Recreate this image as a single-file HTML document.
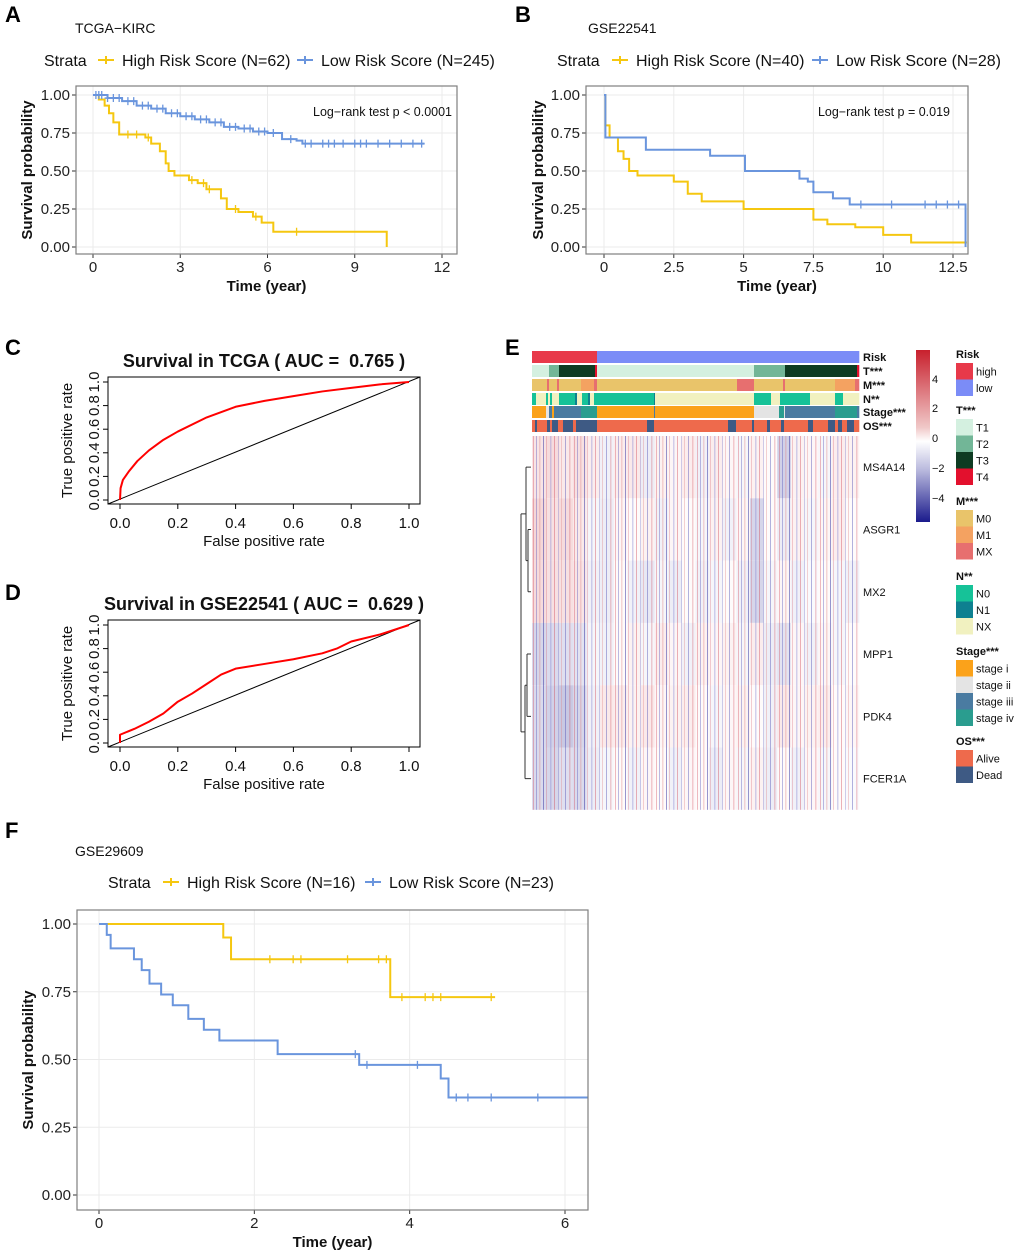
<!DOCTYPE html>
<html><head><meta charset="utf-8"><style>
body{margin:0;background:#fff;}
svg{display:block;font-family:"Liberation Sans",Arial,sans-serif;}
</style></head><body>
<svg id="fig" width="1020" height="1251" viewBox="0 0 1020 1251" xmlns="http://www.w3.org/2000/svg">
<defs>
<pattern id="stripes" x="532" y="0" width="41" height="10" patternUnits="userSpaceOnUse">
<rect x="1" y="0" width="1" height="10" fill="#d04050" opacity="0.35"/>
<rect x="4" y="0" width="1" height="10" fill="#4040b0" opacity="0.35"/>
<rect x="7" y="0" width="1.5" height="10" fill="#e08080" opacity="0.3"/>
<rect x="11" y="0" width="1" height="10" fill="#3030a0" opacity="0.5"/>
<rect x="14" y="0" width="1" height="10" fill="#d04050" opacity="0.25"/>
<rect x="18" y="0" width="1.5" height="10" fill="#8080d0" opacity="0.35"/>
<rect x="22" y="0" width="1" height="10" fill="#d04050" opacity="0.4"/>
<rect x="26" y="0" width="1" height="10" fill="#6060c0" opacity="0.3"/>
<rect x="29" y="0" width="1" height="10" fill="#e08080" opacity="0.35"/>
<rect x="33" y="0" width="1" height="10" fill="#4040b0" opacity="0.4"/>
<rect x="37" y="0" width="1.5" height="10" fill="#d04050" opacity="0.25"/>
</pattern>
</defs>
<g font-weight="bold" font-size="22">
<text x="5" y="22">A</text>
<text x="515" y="22">B</text>
<text x="5" y="355">C</text>
<text x="5" y="600">D</text>
<text x="505" y="355">E</text>
<text x="5" y="838">F</text>
</g>
<g id="gA"></g>
<g id="gB"></g>
<g id="gC"></g>
<g id="gD"></g>
<g id="gE"></g>
<g id="gF"></g>
</svg>
<script>
// ---- KM data ----
var aHighT=[0,0.2,0.4,0.55,0.7,0.9,1.8,2.0,2.3,2.5,2.6,2.8,3.3,3.6,3.9,4.4,4.6,5.0,5.5,5.8,6.2,10.1];
var aHighS=[1,0.97,0.93,0.88,0.82,0.74,0.72,0.68,0.63,0.55,0.5,0.47,0.44,0.42,0.38,0.32,0.25,0.23,0.2,0.16,0.1,0.0];
var aHighEnd=10.1;
var aLowT=[0,0.5,1,1.5,2,2.5,3,3.5,4,4.5,5,5.5,6,6.5,7,7.2];
var aLowS=[1,0.98,0.96,0.93,0.91,0.88,0.86,0.84,0.82,0.79,0.78,0.76,0.75,0.71,0.70,0.68];
var aLowEnd=11.4;
var aLowCens=[0.1,0.2,0.3,0.5,0.7,0.9,1.2,1.4,1.7,1.9,2.2,2.4,2.7,2.9,3.2,3.4,3.7,3.9,4.2,4.4,4.7,4.9,5.2,5.4,5.7,5.9,6.2,6.8,7.3,7.5,7.9,8.1,8.3,8.6,9.0,9.2,9.4,9.8,10.2,10.6,11.0,11.3];
var aHighCens=[1.2,1.5,1.9,3.4,3.8,4.0,4.9,5.6,7.0];
var bHighT=[0,0.05,0.2,0.5,0.7,0.9,1.2,2.5,3.0,3.5,5,7.5,8,9,10,11];
var bHighS=[1,0.8,0.72,0.63,0.58,0.5,0.47,0.43,0.35,0.30,0.25,0.18,0.15,0.13,0.08,0.03];
var bHighEnd=13;
var bLowT=[0,0.05,1.5,3.8,5.05,6.8,7.0,7.3,7.5,8.2,8.8,12.95];
var bLowS=[1,0.72,0.64,0.6,0.5,0.5,0.45,0.43,0.36,0.32,0.28,0.0];
var bLowEnd=12.95;
var bLowCens=[9.2,10.3,11.5,11.9,12.3,12.7];
var fHighT=[0,1.6,1.7,3.75];
var fHighS=[1,0.95,0.87,0.73];
var fHighEnd=5.1;
var fHighCens=[2.2,2.5,2.6,3.2,3.6,3.7,3.9,4.2,4.3,4.4,5.05];
var fLowT=[0,0.1,0.15,0.45,0.55,0.65,0.8,0.95,1.15,1.35,1.55,2.3,3.35,4.4,4.5];
var fLowS=[1,0.96,0.91,0.87,0.83,0.78,0.74,0.70,0.65,0.61,0.57,0.52,0.48,0.43,0.36];
var fLowEnd=6.4;
var fLowCens=[3.3,3.45,4.1,4.6,4.75,5.05,5.65];
// ---- ROC data ----
var cFpr=[0,0.002,0.01,0.03,0.06,0.1,0.15,0.2,0.3,0.4,0.5,0.6,0.7,0.8,0.9,1];
var cTpr=[0,0.1,0.17,0.24,0.33,0.42,0.51,0.58,0.7,0.79,0.84,0.88,0.92,0.95,0.98,1];
var dFpr=[0,0,0.05,0.1,0.15,0.2,0.25,0.3,0.35,0.4,0.5,0.6,0.7,0.75,0.8,0.9,1];
var dTpr=[0,0.07,0.12,0.18,0.25,0.35,0.42,0.5,0.58,0.63,0.67,0.71,0.76,0.8,0.86,0.92,1];
// ---- heatmap data (segment means per gene, left=high risk) ----
var genes=["MS4A14","ASGR1","MX2","MPP1","PDK4","FCER1A"];
var hm0=[0.6,0.8,0.5,0.7,0.4,-0.3,0.4,0.5,-0.4,0.3,0.2,0.4,-0.3,0.4,0.2,-0.2,0.3,0.1,-1.0,0.3,0.2,-0.2,0.4,0.3];
var hm1=[0.9,0.7,0.8,0.5,-0.2,-0.4,0.2,0.1,0.3,-0.3,0.2,0.1,-0.2,0.3,-0.3,0.2,-0.9,0.1,-0.4,0.3,-0.2,0.2,0.4,0.1];
var hm2=[0.8,0.7,0.7,0.6,-0.3,-0.4,0.1,-0.3,-0.5,-0.2,-0.4,0.1,-0.3,-0.2,0.1,-0.3,-0.9,-0.2,0.2,-0.3,-0.1,0.1,-0.2,-0.3];
var hm3=[-0.9,-0.8,-0.7,-0.6,-0.2,-0.3,0.1,0.3,-0.2,0.4,0.2,-0.3,0.3,0.2,0.3,-0.2,0.4,-0.4,-0.6,0.2,-0.3,0.2,-0.2,0.1];
var hm4=[-0.8,-1.0,-1.2,-0.9,-0.3,0.5,0.4,0.3,0.5,0.2,0.3,0.4,0.1,-0.2,0.2,0.3,0.1,-0.3,0.5,0.2,0.3,0.4,0.1,0.2];
var hm5=[-0.8,-0.9,-0.7,-0.8,-0.4,-0.2,0.1,-0.3,0.2,0.1,-0.3,0.2,0.1,-0.4,0.2,-0.2,0.3,-0.4,0.1,-0.3,0.2,-0.2,0.1,-0.1];
var hmRows=[hm0,hm1,hm2,hm3,hm4,hm5];
var nSamp=327;
var annRisk=[[0,65,"high"],[65,327,"low"]];
var annT=[[0,17,"T1"],[17,27,"T2"],[27,63,"T3"],[63,65,"T4"],[65,222,"T1"],[222,253,"T2"],[253,325,"T3"],[325,327,"T4"]];
var annM=[[0,15,"M0"],[15,17,"MX"],[17,25,"M0"],[25,27,"MX"],[27,49,"M0"],[49,62,"M1"],[62,65,"MX"],[65,205,"M0"],[205,222,"MX"],[222,251,"M0"],[251,253,"MX"],[253,303,"M0"],[303,323,"M1"],[323,327,"MX"]];
var annN=[[0,4,"N0"],[4,14,"NX"],[14,16,"N0"],[16,18,"NX"],[18,20,"N0"],[20,27,"NX"],[27,43,"N0"],[43,45,"N1"],[45,50,"NX"],[50,56,"N0"],[56,58,"N1"],[58,62,"NX"],[62,65,"N0"],[65,122,"N0"],[122,123,"N1"],[123,222,"NX"],[222,239,"N0"],[239,248,"NX"],[248,252,"N0"],[252,278,"N0"],[278,303,"NX"],[303,311,"N0"],[311,327,"NX"]];
var annStage=[[0,14,"stage i"],[14,17,"stage ii"],[17,20,"stage iii"],[20,22,"stage i"],[22,49,"stage iii"],[49,65,"stage iv"],[65,122,"stage i"],[122,123,"stage iii"],[123,222,"stage i"],[222,247,"stage ii"],[247,252,"stage iv"],[252,253,"stage ii"],[253,303,"stage iii"],[303,325,"stage iv"],[325,327,"stage iii"]];
var annOS=[[0,3,"Alive"],[3,5,"Dead"],[5,15,"Alive"],[15,18,"Dead"],[18,20,"Alive"],[20,26,"Dead"],[26,31,"Alive"],[31,41,"Dead"],[41,44,"Alive"],[44,65,"Dead"],[65,115,"Alive"],[115,122,"Dead"],[122,196,"Alive"],[196,204,"Dead"],[204,220,"Alive"],[220,222,"Dead"],[222,235,"Alive"],[235,238,"Dead"],[238,249,"Alive"],[249,252,"Dead"],[252,276,"Alive"],[276,281,"Dead"],[281,296,"Alive"],[296,303,"Dead"],[303,306,"Alive"],[306,310,"Dead"],[310,315,"Alive"],[315,322,"Dead"],[322,327,"Alive"]];

var NS="http://www.w3.org/2000/svg";
function mk(parent,tag,attrs,txt){var e=document.createElementNS(NS,tag);for(var k in attrs)e.setAttribute(k,attrs[k]);if(txt!==undefined)e.textContent=txt;parent.appendChild(e);return e;}
var YEL="#F5C710",BLU="#6A95DD";

function kmPanel(g,o){
  var sx=function(v){return o.x0+(v-o.xmin)*(o.x1-o.x0)/(o.xmax-o.xmin);};
  var sy=function(v){return o.y0+(1-v)*(o.y1-o.y0);};
  var bg=mk(g,"rect",{x:o.bx0,y:o.by0,width:o.bx1-o.bx0,height:o.by1-o.by0,fill:"#fff",stroke:"none"});
  
  
  o.xticks.forEach(function(t,i){
    var l=mk(g,"line",{x1:sx(t),x2:sx(t),y1:o.by0,y2:o.by1,stroke:"#ebebeb","stroke-width":1});
    
    
    var tk=mk(g,"line",{x1:sx(t),x2:sx(t),y1:o.by1,y2:o.by1+4,stroke:"#333"});
    
    
    var tx=mk(g,"text",{x:sx(t),y:o.by1+18,"text-anchor":"middle","font-size":o.fs,fill:"#222"},o.xlabels[i]);
    
    
  });
  [0,0.25,0.5,0.75,1].forEach(function(t){
    var l=mk(g,"line",{x1:o.bx0,x2:o.bx1,y1:sy(t),y2:sy(t),stroke:"#ebebeb","stroke-width":1});
    
    
    var tk=mk(g,"line",{x1:o.bx0-4,x2:o.bx0,y1:sy(t),y2:sy(t),stroke:"#333"});
    
    
    var tx=mk(g,"text",{x:o.bx0-6,y:sy(t)+5,"text-anchor":"end","font-size":o.yfs||o.fs,fill:"#222"},t.toFixed(2));
    
    
  });
  function curve(T,S,end,col,cens,name){
    var d="M"+sx(T[0])+","+sy(S[0]);
    for(var i=1;i<T.length;i++){d+="H"+sx(T[i])+"V"+sy(S[i]);}
    d+="H"+Math.min(sx(end),o.bx1);
    var p=mk(g,"path",{d:d,fill:"none",stroke:col,"stroke-width":2});
    
    
    (cens||[]).forEach(function(c){
      var s=S[0];for(var i=0;i<T.length;i++){if(T[i]<=c)s=S[i];}
      var cm=mk(g,"path",{d:"M"+(sx(c)-3)+","+sy(s)+"h6M"+sx(c)+","+(sy(s)-4)+"v8",stroke:col,"stroke-width":1.3});
      
      
    });
  }
  curve(o.hT,o.hS,o.hEnd,YEL,o.hC,"high-risk-curve");
  curve(o.lT,o.lS,o.lEnd,BLU,o.lC,"low-risk-curve");
  var fr=mk(g,"rect",{x:o.bx0,y:o.by0,width:o.bx1-o.bx0,height:o.by1-o.by0,fill:"none",stroke:"#7f7f7f","stroke-width":1.2});
  
  
  var xt=mk(g,"text",{x:(o.bx0+o.bx1)/2,y:o.by1+37,"text-anchor":"middle","font-size":o.fs,"font-weight":"bold",fill:"#111"},"Time (year)");
  
  
  var yc=(o.by0+o.by1)/2;
  var yt=mk(g,"text",{x:o.ylx,y:yc,"text-anchor":"middle","font-size":o.fs,"font-weight":"bold",fill:"#111",transform:"rotate(-90 "+o.ylx+" "+yc+")"},"Survival probability");
  
  
  var ti=mk(g,"text",{x:o.tx,y:o.ty,"font-size":14,fill:"#111"},o.title);
  
  
  var lx=o.lgx,ly=o.lgy;
  var s=mk(g,"text",{x:lx,y:ly,"font-size":16,fill:"#111"},"Strata");
  
  
  [[YEL,o.hl,o.lg1],[BLU,o.ll,o.lg2]].forEach(function(e){
    var k=mk(g,"path",{d:"M"+e[2]+","+(ly-6)+"h16M"+(e[2]+8)+","+(ly-10)+"v8",stroke:e[0],"stroke-width":2});
    
    
    var t=mk(g,"text",{x:e[2]+24,y:ly,"font-size":16,fill:"#111"},e[1]);
    
    
  });
  if(o.pv){var pv=mk(g,"text",{x:o.pvx,y:o.pvy,"font-size":12.5,fill:"#111","text-anchor":"end"},o.pv);
  
  }
}
kmPanel(document.getElementById("gA"),{bx0:76,bx1:457,by0:86,by1:254,x0:93,x1:442,xmin:0,xmax:12,y0:95,y1:247,fs:15,
 xticks:[0,3,6,9,12],xlabels:["0","3","6","9","12"],hT:aHighT,hS:aHighS,hEnd:aHighEnd,hC:aHighCens,lT:aLowT,lS:aLowS,lEnd:aLowEnd,lC:aLowCens,
 ylx:32,title:"TCGA−KIRC",tx:75,ty:33,lgx:44,lgy:66,lg1:98,lg2:297,hl:"High Risk Score (N=62)",ll:"Low Risk Score (N=245)",pv:"Log−rank test p < 0.0001",pvx:452,pvy:116});
kmPanel(document.getElementById("gB"),{bx0:586,bx1:968,by0:86,by1:254,x0:604,x1:953,xmin:0,xmax:12.5,y0:95,y1:247,fs:15,
 xticks:[0,2.5,5,7.5,10,12.5],xlabels:["0","2.5","5","7.5","10","12.5"],hT:bHighT,hS:bHighS,hEnd:bHighEnd,hC:[],lT:bLowT,lS:bLowS,lEnd:bLowEnd,lC:bLowCens,
 ylx:543,title:"GSE22541",tx:588,ty:33,lgx:557,lgy:66,lg1:612,lg2:812,hl:"High Risk Score (N=40)",ll:"Low Risk Score (N=28)",pv:"Log−rank test p = 0.019",pvx:950,pvy:116});
kmPanel(document.getElementById("gF"),{bx0:77,bx1:588,by0:910,by1:1210,x0:99,x1:565,xmin:0,xmax:6,y0:924,y1:1195,fs:15,yfs:15,
 xticks:[0,2,4,6],xlabels:["0","2","4","6"],hT:fHighT,hS:fHighS,hEnd:fHighEnd,hC:fHighCens,lT:fLowT,lS:fLowS,lEnd:fLowEnd,lC:fLowCens,
 ylx:33,title:"GSE29609",tx:75,ty:856,lgx:108,lgy:888,lg1:163,lg2:365,hl:"High Risk Score (N=16)",ll:"Low Risk Score (N=23)"});

function rocPanel(g,o,F,T){
  var sx=function(v){return o.x0+v*(o.x1-o.x0);};
  var sy=function(v){return o.y0+v*(o.y1-o.y0);};
  var fr=mk(g,"rect",{x:o.bx0,y:o.by0,width:o.bx1-o.bx0,height:o.by1-o.by0,fill:"none",stroke:"#000","stroke-width":1});
  
  
  var dg=mk(g,"line",{x1:o.bx0,y1:o.by1,x2:o.bx1,y2:o.by0,stroke:"#000","stroke-width":1});
  
  
  var pts=F.map(function(f,i){return sx(f)+","+sy(T[i]);}).join(" ");
  var pl=mk(g,"polyline",{points:pts,fill:"none",stroke:"#f00","stroke-width":2,"stroke-linejoin":"round"});
  
  
  [0,0.2,0.4,0.6,0.8,1].forEach(function(t){
    var a=mk(g,"line",{x1:sx(t),x2:sx(t),y1:o.by1,y2:o.by1+5,stroke:"#000"});
    
    
    var b=mk(g,"text",{x:sx(t),y:o.by1+24,"text-anchor":"middle","font-size":15,fill:"#111"},t.toFixed(1));
    
    
    var c=mk(g,"line",{x1:o.bx0-5,x2:o.bx0,y1:sy(t),y2:sy(t),stroke:"#000"});
    
    
    var yy=sy(t);
    var d=mk(g,"text",{x:o.bx0-9,y:yy,"text-anchor":"middle","font-size":15,fill:"#111",transform:"rotate(-90 "+(o.bx0-9)+" "+yy+")"},t.toFixed(1));
    
    
  });
  var xl=mk(g,"text",{x:264,y:o.by1+42,"text-anchor":"middle","font-size":15,fill:"#111"},"False positive rate");
  
  
  var yc=(o.by0+o.by1)/2;
  var yl=mk(g,"text",{x:72,y:yc,"text-anchor":"middle","font-size":15,fill:"#111",transform:"rotate(-90 72 "+yc+")"},"True positive rate");
  
  
  var ti=mk(g,"text",{x:264,y:o.ty,"text-anchor":"middle","font-size":18,"font-weight":"bold",fill:"#111"},o.title);
  
  
}
rocPanel(document.getElementById("gC"),{bx0:108,bx1:420,by0:377,by1:504,x0:120,x1:409,y0:500,y1:382,ty:367,title:"Survival in TCGA ( AUC =\u00a0\u00a00.765 )"},cFpr,cTpr);
rocPanel(document.getElementById("gD"),{bx0:108,bx1:420,by0:620,by1:747,x0:120,x1:409,y0:743,y1:625,ty:610,title:"Survival in GSE22541 ( AUC =\u00a0\u00a00.629 )"},dFpr,dTpr);

(function(){
  var g=document.getElementById("gE");
  var X0=532,X1=859,W=X1-X0;
  var colors={high:"#E8394A",low:"#7B8CF7",T1:"#D4F0E0",T2:"#72B697",T3:"#0E3B22",T4:"#E3102D",M0:"#E9C46A",M1:"#F4A261",MX:"#E76F6F",N0:"#16C298",N1:"#0E8090",NX:"#F1F1C0","stage i":"#FBA21A","stage ii":"#E4E4E4","stage iii":"#4A7BA1","stage iv":"#2A9D8F",Alive:"#EE6A4C",Dead:"#3E5A84"};
  var tracks=[["Risk",annRisk,351],["T***",annT,365],["M***",annM,379],["N**",annN,393],["Stage***",annStage,406],["OS***",annOS,420]];
  var sxs=function(i){return X0+i*W/nSamp;};
  tracks.forEach(function(tr){
    tr[1].forEach(function(s){
      var r=mk(g,"rect",{x:sxs(s[0]),y:tr[2],width:sxs(s[1])-sxs(s[0])+0.3,height:12,fill:colors[s[2]]});
      
      
    });
    var t=mk(g,"text",{x:863,y:tr[2]+10,"font-size":11,"font-weight":"bold",fill:"#111"},tr[0]);
    
    
  });
  function col(v){
    var t=Math.max(-5,Math.min(5,v))/5;
    if(t>=0){return "rgb("+Math.round(255-(255-200)*t)+","+Math.round(255-(255-30)*t)+","+Math.round(255-(255-45)*t)+")";}
    t=-t;return "rgb("+Math.round(255-(255-25)*t)+","+Math.round(255-(255-25)*t)+","+Math.round(255-(255-140)*t)+")";
  }
  var RH=62.3,RY=436;
  hmRows.forEach(function(row,gi){
    var sw=W/row.length;
    row.forEach(function(v,j){
      var r=mk(g,"rect",{x:X0+j*sw,y:RY+gi*RH,width:sw+0.3,height:RH,fill:col(v)});
      
      
    });
    var t=mk(g,"text",{x:863,y:RY+gi*RH+RH/2+4,"font-size":11,fill:"#111"},genes[gi]);
    
    
  });
  var tex=mk(g,"rect",{x:X0,y:RY,width:W,height:RH*6,fill:"url(#stripes)"});
  
  
  var cy=function(i){return RY+i*RH+RH/2;};
  var dd="M531,"+cy(1)+"H528M531,"+cy(2)+"H528M528,"+cy(1)+"V"+cy(2)+
    "M531,"+cy(0)+"H526M528,"+((cy(1)+cy(2))/2)+"H526M526,"+cy(0)+"V"+((cy(1)+cy(2))/2)+
    "M531,"+cy(3)+"H527M531,"+cy(4)+"H527M527,"+cy(3)+"V"+cy(4)+
    "M531,"+cy(5)+"H525M527,"+((cy(3)+cy(4))/2)+"H525M525,"+((cy(3)+cy(4))/2)+"V"+cy(5)+
    "M526,"+((cy(0)+(cy(1)+cy(2))/2)/2)+"H521M525,"+(((cy(3)+cy(4))/2+cy(5))/2)+"H521M521,"+((cy(0)+(cy(1)+cy(2))/2)/2)+"V"+(((cy(3)+cy(4))/2+cy(5))/2);
  var dp=mk(g,"path",{d:dd,fill:"none",stroke:"#333","stroke-width":1});
  
  
  var defs=mk(g,"defs",{});
  var lg=mk(defs,"linearGradient",{id:"cb",x1:0,y1:0,x2:0,y2:1});
  [["0","#C8202D"],["0.45","#F0C8C8"],["0.53","#FFFFFF"],["0.7","#B8B8DD"],["1","#1A1A8C"]].forEach(function(s){mk(lg,"stop",{offset:s[0],"stop-color":s[1]});});
  var cb=mk(g,"rect",{x:916,y:350,width:14,height:172,fill:"url(#cb)"});
  
  
  [["4",378],["2",407],["0",437],["−2",467],["−4",497]].forEach(function(l){
    var t=mk(g,"text",{x:932,y:l[1]+5,"font-size":11,fill:"#111"},l[0]);
    
    
  });
  var groups=[["Risk",["high","low"],358],["T***",["T1","T2","T3","T4"],414],["M***",["M0","M1","MX"],505],["N**",["N0","N1","NX"],580],["Stage***",["stage i","stage ii","stage iii","stage iv"],655],["OS***",["Alive","Dead"],745]];
  groups.forEach(function(gr){
    var h=mk(g,"text",{x:956,y:gr[2],"font-size":11,"font-weight":"bold",fill:"#111"},gr[0]);
    
    
    gr[1].forEach(function(k,i){
      var y=gr[2]+5+i*16.5;
      var r=mk(g,"rect",{x:956,y:y,width:17,height:16.5,fill:colors[k]});
      
      
      var t=mk(g,"text",{x:976,y:y+12.5,"font-size":11,fill:"#111"},k);
      
      
    });
  });
})();
</script>
</body></html>
